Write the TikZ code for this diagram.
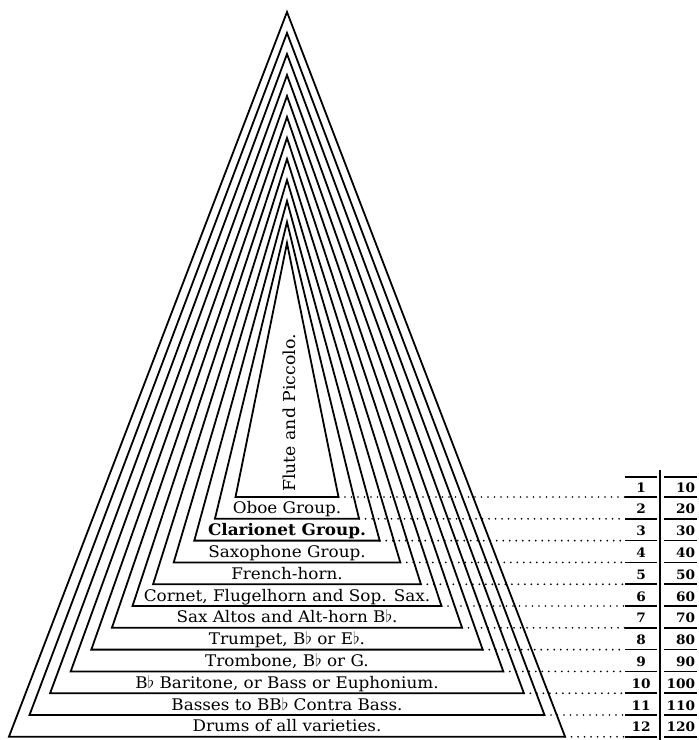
\documentclass[tikz,border=0pt]{standalone}
\usepackage{fontspec}
\setmainfont[FakeStretch=1.05]{DejaVu Serif}
\begin{document}
\begin{tikzpicture}[x=1pt,y=-1pt,inner sep=0pt,outer sep=0pt,
tri/.style={line width=1.8pt,line join=miter},
leader/.style={line width=1.9pt,line cap=round,dash pattern=on 0pt off 6.5pt},
rule/.style={line width=1.7pt},
grouplabel/.style={font=\fontsize{16}{18}\selectfont,anchor=base},
tabnum/.style={font=\fontsize{13}{15}\selectfont\bfseries,anchor=base}]
\useasboundingbox (0,0) rectangle (699,740);
% nested triangles, innermost first, with leaders to the table
\foreach \i in {1,...,12} {
  \pgfmathsetmacro{\ay}{243-(\i-1)*21}
  \pgfmathsetmacro{\by}{497+(\i-1)*21.8}
  \pgfmathsetmacro{\hw}{51.5+(\i-1)*20.6}
  \pgfmathtruncatemacro{\v}{\i*10}
  \draw[tri] (287-\hw,\by) coordinate (l\i) -- (287,\ay) coordinate (a\i)
    -- (287+\hw,\by) coordinate (r\i) -- cycle;
  \coordinate (t\i) at (625,\by);
  \draw[leader] (r\i) -- (t\i);
  \draw[rule] (t\i) -- ++(32,0);
  \draw[rule] (664,\by) -- ++(33,0);
  \draw (641,\by-5) node[tabnum] (n\i) {\i};
  \draw (695,\by-5) node[tabnum,anchor=base east] (m\i) {\v};
}
\draw[line width=1.2pt] (625,477) -- ++(32,0) (664,477) -- ++(33,0);
\draw[rule] (660,470) -- (660,740);
\draw (289,413) node[grouplabel,anchor=center,rotate=90,font=\fontsize{16.5}{18}\selectfont] (flute) {Flute and Piccolo.};
\foreach \i/\txt in {2/{Oboe Group.},3/{\bfseries Clarionet Group.},4/{Saxophone Group.},
  5/{French-horn.},6/{Cornet, Flugelhorn and Sop. Sax.},7/{Sax Altos and Alt-horn B$\flat$.},
  8/{Trumpet, B$\flat$ or E$\flat$.},9/{Trombone, B$\flat$ or G.},
  10/{B$\flat$ Baritone, or Bass or Euphonium.},11/{Basses to BB$\flat$ Contra Bass.},
  12/{Drums of all varieties.}} {
  \pgfmathsetmacro{\by}{497+(\i-1)*21.8}
  \draw (287,\by-5) node[grouplabel] (g\i) {\txt};
}
\end{tikzpicture}
\end{document}
